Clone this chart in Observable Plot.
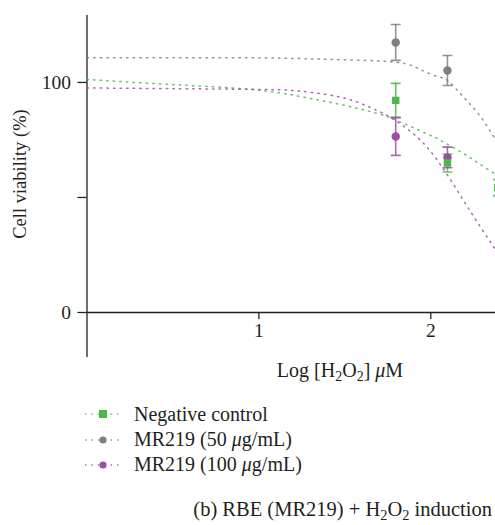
<!DOCTYPE html>
<html><head><meta charset="utf-8">
<script src="https://cdn.jsdelivr.net/npm/d3@7"></script>
<script src="https://cdn.jsdelivr.net/npm/@observablehq/plot@0.6"></script>
<style>
html,body{margin:0;padding:0;background:#fff;overflow:hidden;}
body{font-family:"Liberation Serif","DejaVu Serif",serif;color:#231f20;}
#wrap{position:relative;width:495px;height:525px;}
.lbl{position:absolute;white-space:nowrap;line-height:1;}
sub{font-size:70%;vertical-align:baseline;position:relative;top:0.3em;}
.leg{position:absolute;left:84px;height:20px;display:flex;align-items:center;font-size:20px;white-space:nowrap;}
.leg svg{margin-right:12px;}
</style></head><body>
<div id="wrap">
<div id="chart"></div>
<div class="lbl" id="ylab" style="font-size:18.5px;left:20px;top:174px;transform:translate(-50%,-50%) rotate(-90deg);">Cell viability (%)</div>
<div class="lbl" id="xlab" style="font-size:20px;left:340px;top:370px;transform:translate(-50%,-50%);">Log [H<sub>2</sub>O<sub>2</sub>] <i>μ</i>M</div>
<div id="legend"></div>
<div class="lbl" style="font-size:20.5px;right:3px;top:509px;transform:translate(0,-50%);">(b) RBE (MR219) + H<sub>2</sub>O<sub>2</sub> induction</div>
</div>
<script>
// ---- data ----
const seriesNames = ["Negative control", "MR219 (50 μg/mL)", "MR219 (100 μg/mL)"];
const seriesColors = ["#4cb848", "#808080", "#9d4ea3"];
const seriesSymbols = ["square", "circle", "circle"];
const xTicks = [1, 2];
const yTicks = [0, 50, 100];

// measured points (log concentration, mean %, error)
const negX = [1.796, 2.097, 2.39];
const negMean = [92.2, 65.0, 54.3];
const negErr = [7.4, 3.9, 3.5];
const mr50X = [1.796, 2.097];
const mr50Mean = [117.4, 105.2];
const mr50Err = [7.8, 6.5];
const mr100X = [1.796, 2.097];
const mr100Mean = [76.5, 67.4];
const mr100Err = [8.2, 4.5];

// fitted curves
const negFitX = [0.0, 0.49, 0.951, 1.242, 1.475, 1.69, 1.841, 1.998, 2.057, 2.19, 2.289, 2.371, 2.39];
const negFitY = [101.3, 99.1, 97.0, 93.9, 90.4, 86.5, 82.2, 77.0, 74.8, 69.1, 64.3, 60.4, 59.4];
const mr50FitX = [0.0, 0.951, 1.417, 1.795, 1.94, 2.039, 2.097, 2.167, 2.219, 2.27, 2.317, 2.358, 2.39];
const mr50FitY = [110.7, 110.7, 110.0, 108.8, 105.6, 102.6, 100.9, 95.6, 91.3, 87.0, 82.2, 77.4, 73.5];
const mr100FitX = [0.0, 0.951, 1.242, 1.475, 1.649, 1.765, 1.882, 1.969, 2.056, 2.161, 2.231, 2.306, 2.376, 2.39];
const mr100FitY = [97.6, 97.0, 96.2, 93.6, 89.1, 84.8, 78.7, 72.6, 64.3, 52.2, 43.9, 35.2, 27.4, 25.8];

// ---- tables ----
const pts = (xs, ms, es, s) => xs.map((x, i) => ({x, y: ms[i], lo: ms[i] - es[i], hi: ms[i] + es[i], s}));
const fit = (xs, ys, s) => xs.map((x, i) => ({x, y: ys[i], s}));
const points = [
  ...pts(mr100X, mr100Mean, mr100Err, seriesNames[2]),
  ...pts(negX, negMean, negErr, seriesNames[0]),
  ...pts(mr50X, mr50Mean, mr50Err, seriesNames[1])
];
const fits = [
  ...fit(negFitX, negFitY, seriesNames[0]),
  ...fit(mr50FitX, mr50FitY, seriesNames[1]),
  ...fit(mr100FitX, mr100FitY, seriesNames[2])
];
const colorOf = s => seriesColors[seriesNames.indexOf(s)];
const capSymbol = {draw(ctx) { ctx.moveTo(-5, 0); ctx.lineTo(5, 0); }};

const ink = "#231f20";
const chart = Plot.plot({
  width: 495, height: 395,
  marginLeft: 86.5, marginRight: 0, marginTop: 15, marginBottom: 83,
  x: {domain: [0, 2.3765]},
  y: {domain: [0, 129.1]},
  style: {fontFamily: '"Liberation Serif","DejaVu Serif",serif', fontSize: "19.5px", color: ink, background: "#fff"},
  marks: [
    Plot.ruleX([0], {y1: -19.6, y2: 129.1, stroke: ink, strokeWidth: 1.3}),
    Plot.ruleY([0], {stroke: ink, strokeWidth: 1.3}),
    Plot.axisY({ticks: yTicks, tickSize: 9, tickPadding: 7, tickFormat: d => d === 50 ? "" : String(d), label: null, stroke: ink, strokeWidth: 1.3, fill: ink, fontSize: 19.5}),
    Plot.axisX({ticks: xTicks, tickSize: 7, tickPadding: 4, tickFormat: d => String(d), label: null, stroke: ink, strokeWidth: 1.3, fill: ink, fontSize: 19.5}),
    Plot.line(fits, {x: "x", y: "y", z: "s", stroke: d => colorOf(d.s), strokeWidth: 1.5, strokeDasharray: "1.4 5.2", strokeOpacity: 0.85, curve: "natural", clip: true}),
    Plot.ruleX(points, {x: "x", y1: "lo", y2: "hi", stroke: d => colorOf(d.s), strokeWidth: 1.6, strokeOpacity: 0.85, clip: true}),
    Plot.dot(points, {x: "x", y: "lo", symbol: capSymbol, stroke: d => colorOf(d.s), strokeWidth: 1.6, strokeOpacity: 0.85, clip: true}),
    Plot.dot(points, {x: "x", y: "hi", symbol: capSymbol, stroke: d => colorOf(d.s), strokeWidth: 1.6, strokeOpacity: 0.85, clip: true}),
    Plot.dot(points, {x: "x", y: "y", symbol: d => seriesSymbols[seriesNames.indexOf(d.s)], r: 4.2, fill: d => colorOf(d.s), stroke: "none", clip: true})
  ]
});
chart.style.overflow = "hidden";
document.getElementById("chart").appendChild(chart);

// ---- legend ----
const legendCenters = [414, 439.5, 464.5];
const legend = document.getElementById("legend");
seriesNames.forEach((name, i) => {
  const row = document.createElement("div");
  row.className = "leg";
  row.style.top = (legendCenters[i] - 10) + "px";
  const c = seriesColors[i];
  const marker = seriesSymbols[i] === "square"
    ? `<rect x="15" y="6" width="8" height="8" fill="${c}"/>`
    : `<circle cx="19" cy="10" r="3.6" fill="${c}"/>`;
  const label = name.replace("μ", "<i>μ</i>");
  row.innerHTML = `<svg width="38" height="20"><line x1="1" x2="37" y1="10" y2="10" stroke="${c}" stroke-width="1.5" stroke-dasharray="1.4 5" stroke-opacity="0.85"/>${marker}</svg><span>${label}</span>`;
  legend.appendChild(row);
});
</script>
</body></html>
